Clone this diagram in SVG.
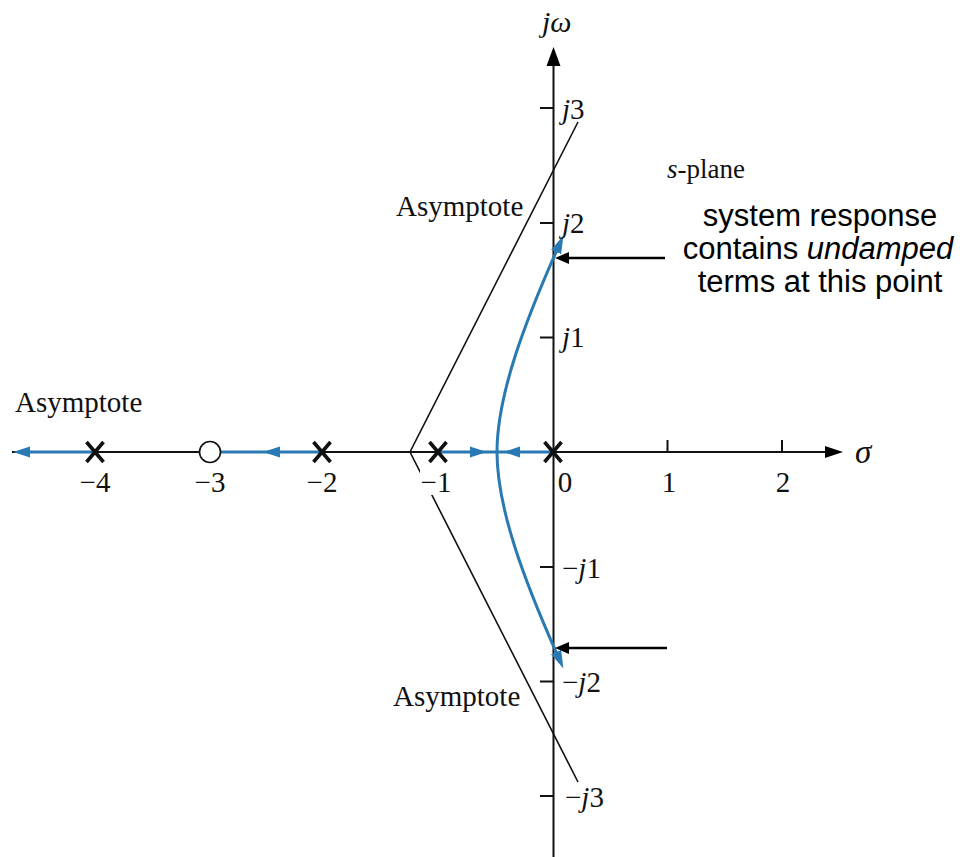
<svg xmlns="http://www.w3.org/2000/svg" width="963" height="857" viewBox="0 0 963 857">
<style>
.ax{stroke:#111;stroke-width:2;fill:none}
.asy{stroke:#111;stroke-width:1.6;fill:none}
.loc{stroke:#2979b3;stroke-width:3;fill:none}
.tri{fill:#2979b3}
.blk{fill:#000}
.xm{stroke:#111;stroke-width:3.6;fill:none}
.zero{stroke:#111;stroke-width:1.6;fill:#fff}
.t{font-family:"Liberation Serif","Times New Roman",serif;font-size:29px;fill:#111}
.tc{font-family:"Liberation Serif","Times New Roman",serif;font-size:29px;fill:#111;text-anchor:middle}
.i{font-style:italic}
.a{font-family:"Liberation Sans",Arial,sans-serif;font-size:31px;fill:#000;text-anchor:middle}
.ptr{stroke:#000;stroke-width:2.5;fill:none}
</style>
<defs>
<marker id="bt" markerUnits="userSpaceOnUse" markerWidth="20" markerHeight="12" refX="1" refY="5.5" orient="auto" viewBox="0 0 20 12"><path d="M0,0 L18,5.5 L0,11 z" fill="#2979b3"/></marker>
</defs>
<rect width="963" height="857" fill="#fff"/>

<g id="axes">
<line class="ax" x1="553.5" y1="62" x2="553.5" y2="857"/>
<polygon class="blk" points="553.5,47 546.5,66 560.5,66"/>
<line class="ax" x1="12" y1="452" x2="828" y2="452"/>
<polygon class="blk" points="843,452 825,446 825,458"/>
<path class="ax" d="M540,108H553 M540,223H553 M540,337.5H553 M540,567H553 M540,681.5H553 M540,796H553 M667.5,440V452 M782,440V452"/>
</g>

<g id="asymptotes">
<path class="asy" d="M578,122 L410,452 L578,782"/>
</g>

<g id="connectors">
<line class="loc" x1="28" y1="452" x2="95" y2="452"/>
<polygon class="tri" points="13,452 30,446.5 30,457.5"/>
<line class="loc" x1="220" y1="452" x2="322" y2="452"/>
<polygon class="tri" points="263,452 280,446.5 280,457.5"/>
<line class="loc" x1="438" y1="452" x2="553" y2="452"/>
<polygon class="tri" points="487,452 470,446.5 470,457.5"/>
<polygon class="tri" points="503,452 520,446.5 520,457.5"/>
<path class="loc" d="M497,452 C497,395 525,322 556.5,251" marker-end="url(#bt)"/>
<path class="loc" d="M497,452 C497,509 525,582 556.5,653" marker-end="url(#bt)"/>
<line class="ptr" x1="665" y1="258" x2="567" y2="258"/>
<polygon class="blk" points="555,258 569,252 569,264"/>
<line class="ptr" x1="667" y1="648" x2="567" y2="648"/>
<polygon class="blk" points="555,648 569,642 569,654"/>
</g>

<g id="pole-m4"><path class="xm" d="M86.5,442 L103.5,462 M103.5,442 L86.5,462"/></g>
<g id="zero-m3"><circle class="zero" cx="210" cy="452" r="10.5"/></g>
<g id="pole-m2"><path class="xm" d="M313.5,442 L330.5,462 M330.5,442 L313.5,462"/></g>
<g id="pole-m1"><path class="xm" d="M429.5,442 L446.5,462 M446.5,442 L429.5,462"/></g>
<g id="pole-0"><path class="xm" d="M544.5,442 L561.5,462 M561.5,442 L544.5,462"/></g>

<g id="tick-labels">
<text class="tc" x="95" y="492">−4</text>
<text class="tc" x="210" y="492">−3</text>
<text class="tc" x="322" y="492">−2</text>
<rect x="420" y="470" width="31" height="25" fill="#fff"/>
<text class="tc" x="436" y="492">−1</text>
<text class="tc" x="565" y="492">0</text>
<text class="tc" x="669" y="492">1</text>
<text class="tc" x="783" y="492">2</text>
<text class="t" x="562" y="119"><tspan class="i">j</tspan>3</text>
<text class="t" x="562" y="233"><tspan class="i">j</tspan>2</text>
<text class="t" x="562" y="347"><tspan class="i">j</tspan>1</text>
<text class="t" x="562" y="578">−<tspan class="i">j</tspan>1</text>
<text class="t" x="562" y="692">−<tspan class="i">j</tspan>2</text>
<text class="t" x="565" y="807">−<tspan class="i">j</tspan>3</text>
<text class="t i" x="542" y="32" style="font-size:30px">jω</text>
<text class="t i" x="855" y="463" style="font-size:33px">σ</text>
</g>

<g id="labels">
<text class="t" x="15" y="412">Asymptote</text>
<text class="t" x="396" y="216">Asymptote</text>
<text class="t" x="393" y="706">Asymptote</text>
<text class="t" x="667" y="178" style="font-size:27px"><tspan class="i">s</tspan>-plane</text>
</g>

<g id="note">
<text class="a" x="820" y="226">system response</text>
<text class="a" x="818" y="259">contains <tspan font-style="italic">undamped</tspan></text>
<text class="a" x="820" y="292">terms at this point</text>
</g>
</svg>
